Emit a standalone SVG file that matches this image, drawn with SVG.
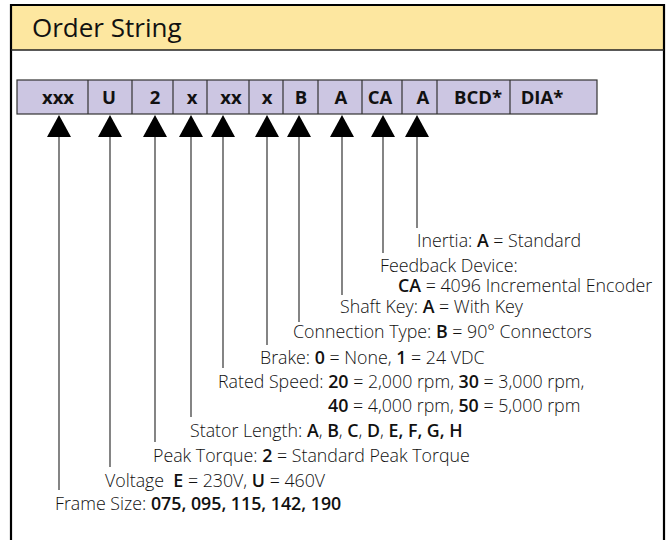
<svg xmlns="http://www.w3.org/2000/svg" width="667" height="540" viewBox="0 0 667 540">
<style>
.lbl{font-family:"Open Sans","Noto Sans","Liberation Sans",sans-serif;font-size:17.8px;font-weight:300;fill:#111}
.b{font-weight:600}
.cell{font-family:"Open Sans","Noto Sans","Liberation Sans",sans-serif;font-size:18.5px;font-weight:700;fill:#111;text-anchor:middle}
.ln{stroke:#333;stroke-width:1.2;fill:none}
</style>
<defs>
<polygon id="arr" points="0,0 -12,22 12,22" fill="#000"/>
</defs>
<rect x="0" y="0" width="667" height="540" fill="#fff"/>
<g id="frame">
<rect x="11" y="5" width="653" height="45" fill="#FDE7A0"/>
<path d="M11,540 V5 H664 V540" fill="none" stroke="#000" stroke-width="2.2"/>
<line x1="11" y1="50" x2="664" y2="50" stroke="#222" stroke-width="1.5"/>
<text x="32" y="37" font-family="'Open Sans','Noto Sans','Liberation Sans',sans-serif" font-size="26" fill="#111">Order String</text>
</g>
<g id="order-string">
<rect x="17" y="80" width="580" height="34" fill="#CCC6E2" stroke="#333" stroke-width="1.2"/>
<path class="ln" d="M88,80V114M132,80V114M173,80V114M207,80V114M249,80V114M283,80V114M318,80V114M362,80V114M402,80V114M437,80V114M510,80V114"/>
<text class="cell" x="58" y="104">xxx</text>
<text class="cell" x="109" y="104">U</text>
<text class="cell" x="155" y="104">2</text>
<text class="cell" x="192" y="104">x</text>
<text class="cell" x="231" y="104">xx</text>
<text class="cell" x="267" y="104">x</text>
<text class="cell" x="301" y="104">B</text>
<text class="cell" x="341" y="104">A</text>
<text class="cell" x="380" y="104">CA</text>
<text class="cell" x="423" y="104">A</text>
<text class="cell" x="478" y="104">BCD*</text>
<text class="cell" x="542" y="104">DIA*</text>
</g>
<g id="connectors">
<use href="#arr" x="59" y="115"/><line class="ln" x1="59" y1="137" x2="59" y2="490"/>
<use href="#arr" x="110" y="115"/><line class="ln" x1="110" y1="137" x2="110" y2="467"/>
<use href="#arr" x="155" y="115"/><line class="ln" x1="155" y1="137" x2="155" y2="442"/>
<use href="#arr" x="191" y="115"/><line class="ln" x1="191" y1="137" x2="191" y2="417"/>
<use href="#arr" x="223" y="115"/><line class="ln" x1="223" y1="137" x2="223" y2="368"/>
<use href="#arr" x="267" y="115"/><line class="ln" x1="267" y1="137" x2="267" y2="345"/>
<use href="#arr" x="299" y="115"/><line class="ln" x1="299" y1="137" x2="299" y2="322"/>
<use href="#arr" x="342" y="115"/><line class="ln" x1="342" y1="137" x2="342" y2="295"/>
<use href="#arr" x="383" y="115"/><line class="ln" x1="383" y1="137" x2="383" y2="253"/>
<use href="#arr" x="417" y="115"/><line class="ln" x1="417" y1="137" x2="417" y2="228"/>
</g>
<g id="inertia"><text class="lbl" x="417" y="247">Inertia: <tspan class="b">A</tspan> = Standard</text></g>
<g id="feedback"><text class="lbl" x="380" y="272">Feedback Device:</text>
<text class="lbl" x="398" y="292"><tspan class="b">CA</tspan> = 4096 Incremental Encoder</text></g>
<g id="shaft-key"><text class="lbl" x="340" y="313">Shaft Key: <tspan class="b">A</tspan> = With Key</text></g>
<g id="connection"><text class="lbl" x="293" y="338">Connection Type: <tspan class="b">B</tspan> = 90° Connectors</text></g>
<g id="brake"><text class="lbl" x="260" y="364">Brake: <tspan class="b">0</tspan> = None, <tspan class="b">1</tspan> = 24 VDC</text></g>
<g id="rated-speed"><text class="lbl" x="218" y="388">Rated Speed: <tspan class="b">20</tspan> = 2,000 rpm, <tspan class="b">30</tspan> = 3,000 rpm,</text>
<text class="lbl" x="328" y="412"><tspan class="b">40</tspan> = 4,000 rpm, <tspan class="b">50</tspan> = 5,000 rpm</text></g>
<g id="stator"><text class="lbl" x="190" y="437">Stator Length: <tspan class="b">A</tspan>, <tspan class="b">B</tspan>, <tspan class="b">C</tspan>, <tspan class="b">D</tspan>, <tspan class="b">E, F, G, H</tspan></text></g>
<g id="peak-torque"><text class="lbl" x="153" y="462">Peak Torque: <tspan class="b">2</tspan> = Standard Peak Torque</text></g>
<g id="voltage"><text class="lbl" x="105" y="487" xml:space="preserve">Voltage  <tspan class="b">E</tspan> = 230V, <tspan class="b">U</tspan> = 460V</text></g>
<g id="frame-size"><text class="lbl" x="55" y="510">Frame Size: <tspan class="b">075, 095, 115, 142, 190</tspan></text></g>
</svg>
